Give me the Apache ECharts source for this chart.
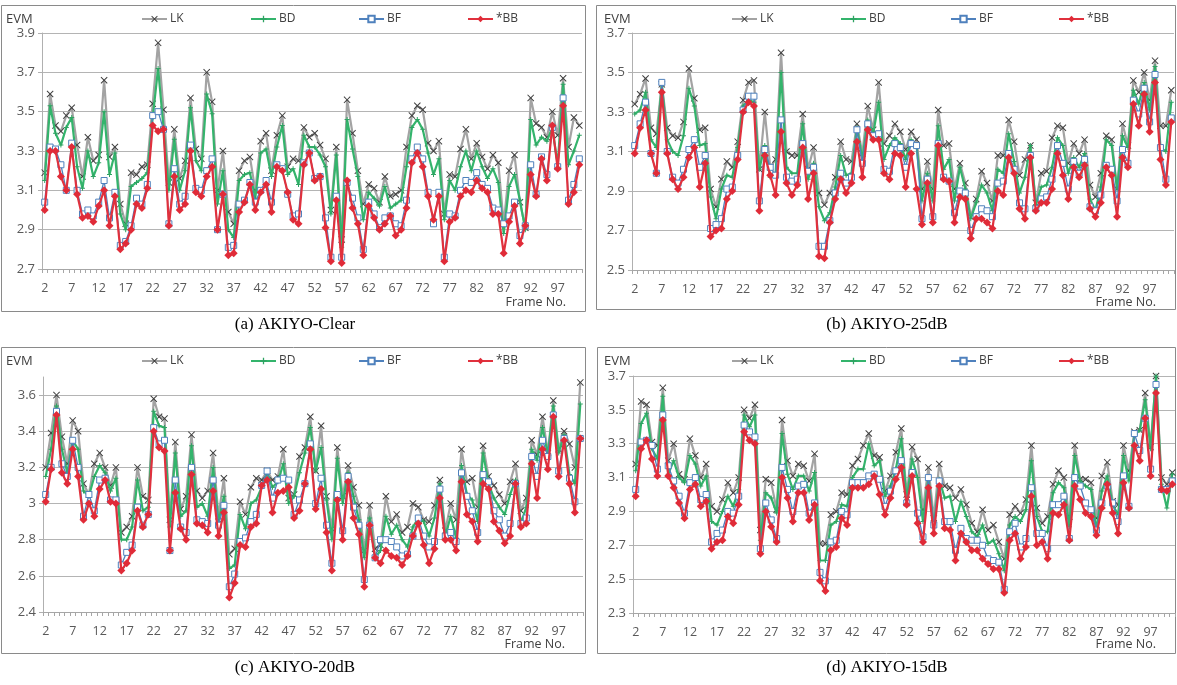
<!DOCTYPE html>
<html>
<head>
<meta charset="utf-8">
<script src="https://cdn.jsdelivr.net/npm/echarts@6/dist/echarts.min.js"></script>
<style>
  html, body { margin: 0; padding: 0; background: #fff; }
  #chart { width: 1177px; height: 685px; }
</style>
</head>
<body>
<div id="chart"></div>
<script>
// Frame numbers on the category axis
const frames = [2,3,4,5,6,7,8,9,10,11,12,13,14,15,16,17,18,19,20,21,22,23,24,25,26,27,28,29,30,31,
  32,33,34,35,36,37,38,39,40,41,42,43,44,45,46,47,48,49,50,51,52,53,54,55,56,57,58,59,60,61,
  62,63,64,65,66,67,68,69,70,71,72,73,74,75,76,77,78,79,80,81,82,83,84,85,86,87,88,89,90,91,
  92,93,94,95,96,97,98,99,100,101];

const seriesNames = ['LK', 'BD', 'BF', '*BB'];

// (a) AKIYO-Clear
const clearLK = [3.19,3.59,3.43,3.40,3.48,3.52,3.33,3.17,3.37,3.25, 3.28,3.66,3.27,3.32,3.03,2.93,3.19,3.18,3.22,3.23,
  3.54,3.85,3.51,3.14,3.41,3.16,3.25,3.57,3.31,3.26, 3.70,3.55,3.10,3.30,2.99,2.93,3.20,3.25,3.27,3.10,
  3.35,3.39,3.20,3.38,3.48,3.22,3.26,3.25,3.42,3.37, 3.39,3.33,3.26,3.00,3.32,2.85,3.56,3.39,3.20,3.03,
  3.13,3.11,3.04,3.17,3.07,3.08,3.10,3.32,3.48,3.53, 3.51,3.34,3.30,3.35,2.98,3.18,3.17,3.31,3.41,3.26,
  3.34,3.27,3.21,3.28,3.24,2.93,3.20,3.28,3.04,2.91, 3.57,3.44,3.42,3.37,3.50,3.38,3.67,3.32,3.47,3.43];
const clearBD = [3.15,3.53,3.39,3.33,3.42,3.47,3.22,3.11,3.30,3.17, 3.24,3.50,3.18,3.29,2.98,2.90,3.12,3.14,3.16,3.19,
  3.47,3.72,3.42,3.10,3.36,3.10,3.20,3.52,3.25,3.20, 3.59,3.49,3.03,3.20,2.90,2.86,3.15,3.18,3.19,3.06,
  3.29,3.31,3.17,3.32,3.43,3.18,3.21,3.13,3.38,3.32, 3.32,3.28,3.22,2.98,3.28,2.81,3.46,3.31,3.17,2.95,
  3.09,3.06,3.02,3.12,3.01,3.03,3.05,3.22,3.42,3.46, 3.41,3.29,3.18,3.26,2.95,3.15,3.10,3.22,3.30,3.20,
  3.30,3.22,3.16,3.21,3.14,2.88,3.12,3.18,3.05,2.90, 3.46,3.33,3.37,3.35,3.42,3.23,3.64,3.23,3.30,3.38];
const clearBF = [3.04,3.32,3.31,3.23,3.10,3.34,3.10,2.98,3.00,2.97, 3.04,3.15,2.96,3.09,2.82,2.84,2.92,3.06,3.03,3.13,
  3.48,3.50,3.41,2.93,3.21,3.03,3.07,3.33,3.11,3.10, 3.20,3.26,2.90,3.08,2.81,2.82,3.03,3.05,3.14,3.04,
  3.10,3.15,3.04,3.23,3.21,3.08,2.97,2.98,3.24,3.29, 3.16,3.17,2.96,2.76,3.07,2.76,3.14,3.06,2.96,2.80,
  3.04,2.98,2.91,2.96,2.97,2.93,2.92,3.05,3.26,3.32, 3.26,3.09,2.93,3.09,2.76,2.98,2.97,3.10,3.15,3.14,
  3.19,3.13,3.11,3.01,3.00,2.93,2.97,3.04,2.87,2.92, 3.23,3.08,3.27,3.18,3.42,3.22,3.57,3.05,3.13,3.26];
const clearBB = [3.00,3.30,3.30,3.17,3.10,3.32,3.08,2.96,2.97,2.94, 3.02,3.10,2.92,3.07,2.80,2.83,2.90,3.03,3.01,3.11,
  3.43,3.40,3.41,2.92,3.17,3.00,3.03,3.30,3.09,3.07, 3.17,3.22,2.90,3.08,2.77,2.78,2.99,3.04,3.13,3.00,
  3.09,3.13,2.99,3.22,3.20,3.09,2.95,2.93,3.23,3.29, 3.15,3.17,2.91,2.74,3.05,2.73,3.15,3.01,2.93,2.77,
  3.02,2.96,2.90,2.93,2.97,2.87,2.90,3.01,3.24,3.29, 3.22,3.07,2.95,3.07,2.74,2.94,2.96,3.07,3.10,3.09,
  3.15,3.11,3.09,2.98,2.98,2.78,2.94,3.02,2.83,2.92, 3.18,3.07,3.26,3.15,3.43,3.21,3.53,3.03,3.09,3.23];

// (b) AKIYO-25dB
const db25LK = [3.34,3.39,3.47,3.22,3.19,3.44,3.22,3.18,3.17,3.25, 3.52,3.37,3.21,3.22,2.91,2.82,2.96,3.05,3.02,3.15,
  3.36,3.45,3.46,3.01,3.30,3.02,3.06,3.60,3.10,3.08, 3.08,3.29,3.01,3.12,2.89,2.83,2.89,2.97,3.15,3.06,
  3.05,3.24,3.09,3.33,3.21,3.45,3.14,3.18,3.24,3.20, 3.11,3.20,3.16,2.91,3.05,2.91,3.31,3.13,3.14,2.91,
  3.04,2.94,2.77,2.86,3.00,2.94,2.85,3.08,3.08,3.26, 3.15,2.98,3.06,3.13,2.84,2.99,3.00,3.17,3.23,3.22,
  3.04,3.14,3.09,3.16,2.93,2.87,2.99,3.18,3.16,2.91, 3.24,3.13,3.46,3.40,3.50,3.36,3.56,3.23,3.23,3.41];
const db25BD = [3.29,3.31,3.40,3.16,3.12,3.44,3.16,3.10,3.08,3.18, 3.42,3.33,3.13,3.14,2.87,2.76,2.91,2.98,2.97,3.12,
  3.33,3.36,3.35,3.01,3.13,2.97,2.99,3.50,3.02,2.99, 2.99,3.24,2.96,3.04,2.82,2.75,2.79,2.92,3.08,2.98,
  2.99,3.22,3.06,3.26,3.19,3.35,3.06,3.13,3.17,3.14, 3.06,3.16,3.13,2.85,2.99,2.85,3.23,3.01,3.06,2.85,
  3.02,2.91,2.76,2.84,2.93,2.89,2.80,3.01,2.99,3.19, 3.05,2.89,2.97,3.13,2.83,2.92,2.93,3.02,3.17,3.13,
  2.99,3.07,3.02,3.09,2.86,2.80,2.92,3.16,3.13,2.91, 3.18,3.12,3.41,3.34,3.45,3.31,3.53,3.12,3.10,3.35];
const db25BF = [3.13,3.24,3.35,3.09,2.99,3.45,3.10,2.97,2.94,3.01, 3.11,3.16,3.02,3.08,2.71,2.73,2.76,2.91,2.92,3.08,
  3.31,3.38,3.38,2.85,3.11,3.02,2.98,3.26,2.97,2.95, 2.96,3.14,3.00,3.02,2.62,2.62,2.75,2.89,2.99,2.94,
  2.97,3.21,3.04,3.24,3.18,3.19,3.01,3.00,3.14,3.12, 3.02,3.14,3.13,2.76,2.96,2.77,3.14,2.97,2.95,2.79,
  2.90,2.89,2.70,2.77,2.81,2.80,2.77,2.94,2.95,3.09, 3.01,2.84,2.81,3.08,2.81,2.86,2.87,2.96,3.13,3.04,
  2.91,3.05,2.99,3.06,2.82,2.80,2.88,3.03,3.01,2.85, 3.11,3.04,3.36,3.29,3.42,3.25,3.49,3.12,2.96,3.27];
const db25BB = [3.09,3.22,3.31,3.09,2.99,3.40,3.09,2.96,2.91,2.97, 3.07,3.12,2.92,3.04,2.67,2.70,2.71,2.86,2.90,3.06,
  3.30,3.35,3.33,2.80,3.08,2.98,2.88,3.20,2.94,2.88, 2.93,3.12,2.86,2.99,2.57,2.56,2.74,2.86,2.96,2.89,
  2.94,3.15,2.97,3.21,3.16,3.16,2.99,2.96,3.09,3.08, 2.92,3.09,2.91,2.73,2.94,2.74,3.13,2.96,2.95,2.74,
  2.87,2.86,2.66,2.76,2.76,2.74,2.71,2.90,2.88,3.07, 2.99,2.81,2.76,3.07,2.80,2.84,2.84,2.91,3.09,2.98,
  2.86,3.02,2.97,3.03,2.81,2.77,2.84,3.02,2.98,2.77, 3.07,3.02,3.34,3.23,3.39,3.20,3.45,3.06,2.93,3.25];

// (c) AKIYO-20dB
const db20LK = [3.20,3.39,3.60,3.37,3.22,3.46,3.40,3.11,3.05,3.22, 3.28,3.20,3.10,3.20,2.84,2.87,2.93,3.20,3.04,3.02,
  3.58,3.48,3.47,2.91,3.34,2.97,3.04,3.38,3.07,3.03, 3.07,3.28,2.93,3.14,2.72,2.75,3.01,2.94,3.09,3.14,
  3.13,3.18,3.13,3.15,3.30,3.03,3.05,3.26,3.31,3.48, 3.18,3.43,3.04,2.86,3.31,3.04,3.21,3.09,2.99,2.74,
  2.99,2.75,2.77,3.04,2.90,2.94,2.84,2.87,3.00,2.98, 2.91,2.90,2.99,3.13,2.85,3.00,2.91,3.30,3.12,3.14,
  2.98,3.32,3.15,3.10,3.05,3.00,3.12,3.22,2.96,3.03, 3.35,3.27,3.48,3.28,3.57,3.30,3.40,3.33,3.20,3.67];
const db20BD = [3.15,3.30,3.54,3.30,3.17,3.35,3.30,3.07,3.04,3.15, 3.21,3.17,3.07,3.14,2.80,2.80,2.87,3.13,2.96,2.98,
  3.51,3.43,3.42,2.87,3.28,2.93,2.96,3.32,2.98,3.00, 2.93,3.20,2.90,3.04,2.64,2.66,2.94,2.86,3.00,3.02,
  3.09,3.17,3.09,3.12,3.22,3.00,3.04,3.17,3.28,3.42, 3.18,3.31,3.02,2.80,3.25,3.00,3.17,3.04,2.91,2.70,
  2.92,2.70,2.74,2.93,2.83,2.88,2.80,2.76,2.87,2.92, 2.90,2.82,2.92,3.11,2.82,2.93,2.81,3.21,3.05,3.02,
  2.90,3.28,3.11,3.03,2.98,2.94,3.05,3.13,2.89,2.98, 3.30,3.24,3.42,3.27,3.54,3.28,3.38,3.16,3.11,3.55];
const db20BF = [3.05,3.20,3.51,3.22,3.15,3.35,3.20,2.93,3.05,2.96, 3.13,3.14,3.02,3.02,2.66,2.73,2.77,2.98,2.88,2.94,
  3.42,3.33,3.35,2.74,3.13,2.87,2.84,3.20,2.91,2.90, 2.89,3.13,2.88,2.99,2.54,2.61,2.79,2.81,2.90,2.94,
  3.10,3.18,3.03,3.13,3.14,3.13,2.94,3.02,3.11,3.33, 3.00,3.14,2.88,2.67,3.05,2.85,3.15,2.98,2.88,2.58,
  2.88,2.70,2.80,2.80,2.79,2.76,2.71,2.72,2.82,2.92, 2.82,2.76,2.79,3.08,2.82,2.84,2.79,3.17,3.04,2.96,
  2.84,3.16,3.12,2.96,2.91,2.82,2.89,3.11,2.89,2.92, 3.26,3.15,3.35,3.26,3.49,3.18,3.36,3.14,3.01,3.36];
const db20BB = [3.01,3.19,3.49,3.17,3.11,3.30,3.15,2.91,3.00,2.93, 3.08,3.13,3.01,3.00,2.63,2.67,2.74,2.96,2.87,2.94,
  3.40,3.31,3.29,2.74,3.06,2.86,2.80,3.16,2.89,2.88, 2.84,3.07,2.82,2.95,2.48,2.56,2.77,2.76,2.87,2.89,
  3.10,3.13,2.95,3.06,3.07,3.09,2.92,2.96,3.11,3.30, 2.97,3.08,2.84,2.63,3.02,2.80,3.12,2.92,2.83,2.54,
  2.88,2.70,2.67,2.74,2.71,2.70,2.66,2.71,2.82,2.89, 2.77,2.67,2.75,3.03,2.80,2.80,2.74,3.12,2.94,2.90,
  2.79,3.11,3.08,2.90,2.85,2.78,2.82,3.11,2.87,2.89, 3.22,3.03,3.30,3.19,3.48,3.15,3.35,3.11,2.95,3.36];

// (d) AKIYO-15dB
const db15LK = [3.18,3.55,3.53,3.31,3.29,3.63,3.20,3.30,3.12,3.09, 3.33,3.23,3.10,3.18,2.93,2.90,2.97,3.07,3.01,3.10,
  3.50,3.45,3.53,2.79,3.09,3.07,2.91,3.44,3.20,3.11, 3.18,3.17,3.08,3.24,2.71,2.71,2.88,2.90,3.01,3.00,
  3.17,3.21,3.29,3.36,3.23,3.22,3.02,3.11,3.25,3.39, 3.00,3.28,3.21,2.91,3.16,2.86,3.18,3.05,3.04,2.98,
  3.03,2.94,2.83,2.78,2.91,2.79,2.82,2.72,2.62,2.88, 2.93,2.89,2.97,3.29,2.92,2.83,2.87,3.06,3.14,3.10,
  2.87,3.29,3.09,3.09,3.07,2.86,3.11,3.19,2.96,2.94, 3.29,3.14,3.37,3.38,3.60,3.28,3.70,3.10,3.06,3.13];
const db15BD = [3.14,3.42,3.48,3.27,3.21,3.58,3.12,3.20,3.10,3.07, 3.23,3.18,3.05,3.11,2.84,2.82,2.90,2.99,2.93,3.03,
  3.47,3.40,3.47,2.73,3.01,2.98,2.89,3.36,3.12,3.03, 3.11,3.11,3.02,3.13,2.61,2.61,2.82,2.84,2.94,2.93,
  3.10,3.15,3.15,3.30,3.17,3.20,2.99,3.05,3.15,3.33, 2.97,3.21,3.10,2.84,3.10,2.81,3.09,2.98,2.99,2.84,
  2.96,2.87,2.78,2.75,2.82,2.71,2.73,2.65,2.55,2.82, 2.87,2.84,2.91,3.20,2.87,2.78,2.78,3.01,3.07,3.04,
  2.81,3.23,3.08,3.05,3.03,2.79,3.02,3.11,2.94,2.88, 3.23,3.08,3.35,3.38,3.56,3.27,3.70,3.06,2.92,3.12];
const db15BF = [3.03,3.31,3.32,3.29,3.15,3.47,3.17,3.08,2.99,2.89, 3.07,3.10,2.97,3.00,2.72,2.77,2.79,2.90,2.89,2.99,
  3.41,3.37,3.34,2.68,2.95,2.85,2.74,3.16,3.03,2.90, 3.05,3.06,2.89,2.95,2.54,2.49,2.72,2.73,2.90,2.88,
  3.07,3.07,3.07,3.11,3.12,3.09,2.93,3.02,3.14,3.20, 2.95,3.13,2.89,2.75,3.10,2.82,3.08,2.84,2.84,2.67,
  2.80,2.74,2.73,2.73,2.70,2.62,2.61,2.60,2.44,2.78, 2.83,2.69,2.74,3.04,2.77,2.77,2.68,2.94,2.94,2.99,
  2.74,3.10,3.05,2.95,2.91,2.79,2.95,3.05,2.95,2.84, 3.11,2.93,3.36,3.26,3.45,3.15,3.65,3.03,3.03,3.08];
const db15BB = [2.99,3.27,3.32,3.21,3.11,3.44,3.11,3.04,2.95,2.86, 3.03,3.06,2.93,2.96,2.68,2.72,2.73,2.87,2.83,2.94,
  3.37,3.32,3.30,2.65,2.90,2.81,2.72,3.10,2.98,2.84, 3.01,3.01,2.85,2.94,2.49,2.43,2.67,2.69,2.86,2.82,
  3.04,3.04,3.04,3.06,3.11,3.00,2.88,2.98,3.09,3.16, 2.94,3.11,2.83,2.72,3.04,2.77,3.05,2.80,2.79,2.61,
  2.77,2.72,2.67,2.67,2.62,2.59,2.56,2.56,2.42,2.73, 2.77,2.62,2.69,2.99,2.70,2.72,2.62,2.89,2.88,2.94,
  2.73,3.05,2.97,2.89,2.87,2.76,2.92,3.06,2.89,2.77, 3.07,2.92,3.29,3.20,3.45,3.11,3.60,3.03,3.02,3.06];

// Panel layout: one grid per noise condition
const panels = [
  { caption: '(a) AKIYO-Clear', data: [clearLK, clearBD, clearBF, clearBB], min: 2.7, max: 3.9,
    box: [1.5, 5.5, 584, 306], grid: { left: 42, top: 33, width: 540, height: 236 },
    legendX: [141, 250, 358, 467], legendTop: 13, evm: [6, 19], frameNo: [566, 302], capX: 295, capY: 325 },
  { caption: '(b) AKIYO-25dB', data: [db25LK, db25BD, db25BF, db25BB], min: 2.5, max: 3.7,
    box: [596.5, 5.5, 579, 304], grid: { left: 632, top: 33, width: 542, height: 237 },
    legendX: [731, 840, 950, 1058], legendTop: 13, evm: [604, 19], frameNo: [1156, 302], capX: 887, capY: 325 },
  { caption: '(c) AKIYO-20dB', data: [db20LK, db20BD, db20BF, db20BB], min: 2.4, max: 3.7, hideMax: true,
    box: [1.5, 347.5, 584, 306], grid: { left: 43, top: 377, width: 540, height: 235 },
    legendX: [141, 250, 358, 467], legendTop: 355, evm: [6, 361], frameNo: [565, 644], capX: 295, capY: 668 },
  { caption: '(d) AKIYO-15dB', data: [db15LK, db15BD, db15BF, db15BB], min: 2.3, max: 3.7,
    box: [597.5, 347.5, 578, 306], grid: { left: 633, top: 376, width: 542, height: 237 },
    legendX: [731, 840, 950, 1058], legendTop: 355, evm: [604, 361], frameNo: [1156, 644], capX: 887, capY: 668 }
];

const FONT = 'Open Sans';
const AXIS_TEXT = '#595959';

// Marker shapes and line styles for the four methods
const crossPath = 'path://M1,0 L5,4 L9,0 L10,1 L6,5 L10,9 L9,10 L5,6 L1,10 L0,9 L4,5 L0,1 Z';
const plusPath = 'path://M4,0 L6,0 L6,4 L10,4 L10,6 L6,6 L6,10 L4,10 L4,6 L0,6 L0,4 L4,4 Z';
const styles = [
  { symbol: crossPath, symbolSize: 7, lineStyle: { color: '#a3a3a3', width: 2.2 }, itemStyle: { color: '#3f3f3f' } },
  { symbol: plusPath, symbolSize: 5, lineStyle: { color: '#34b46c', width: 2.2 }, itemStyle: { color: '#2ea362' } },
  { symbol: 'rect', symbolSize: 6, lineStyle: { color: '#4f81bd', width: 1.3 }, itemStyle: { color: '#ffffff', borderColor: '#4f81bd', borderWidth: 1 } },
  { symbol: 'diamond', symbolSize: 8, lineStyle: { color: '#e0313d', width: 2.2 }, itemStyle: { color: '#e02b38' } }
];

const option = {
  animation: false,
  backgroundColor: '#ffffff',
  textStyle: { fontFamily: FONT },
  grid: [], xAxis: [], yAxis: [], series: [], legend: [], graphic: []
};

panels.forEach((p, i) => {
  option.grid.push(Object.assign({ containLabel: false }, p.grid));
  option.xAxis.push({
    type: 'category', gridIndex: i, data: frames, boundaryGap: true,
    axisLine: { show: true, lineStyle: { color: '#a6a6a6', width: 1 } },
    axisTick: { show: true, interval: 0, length: 4, lineStyle: { color: '#a6a6a6' } },
    axisLabel: { interval: 4, margin: 13, fontSize: 12.5, color: AXIS_TEXT, fontFamily: FONT },
    splitLine: { show: false }
  });
  option.yAxis.push({
    type: 'value', gridIndex: i, min: p.min, max: p.max, interval: 0.2,
    axisLine: { show: true, lineStyle: { color: '#b0b0b0', width: 1 } },
    axisTick: { show: true, length: 4, lineStyle: { color: '#b0b0b0' } },
    axisLabel: { margin: 7, fontSize: 13, color: AXIS_TEXT, fontFamily: FONT,
      showMaxLabel: !p.hideMax, formatter: v => (Math.round(v * 10) / 10).toString() },
    splitLine: { show: true, showMaxLine: !p.hideMax, lineStyle: { color: '#b4b4b4', width: 1 } }
  });
  seriesNames.forEach((name, k) => {
    option.series.push(Object.assign({
      name: name, type: 'line', xAxisIndex: i, yAxisIndex: i,
      data: p.data[k], showSymbol: true, showAllSymbol: true, z: 2 + k
    }, styles[k]));
    option.legend.push({
      data: [name], left: p.legendX[k], top: p.legendTop, selectedMode: false,
      itemWidth: 25, itemHeight: 8, itemGap: 0, padding: 0,
      textStyle: { fontSize: 12, color: '#404040', fontFamily: FONT, padding: [0, 0, 0, -2] }
    });
  });
  option.graphic.push(
    { type: 'rect', shape: { x: p.box[0], y: p.box[1], width: p.box[2], height: p.box[3] },
      style: { fill: 'none', stroke: '#8a8a8a', lineWidth: 1 }, silent: true, z: 0 },
    { type: 'text', x: p.evm[0], y: p.evm[1],
      style: { text: 'EVM', fill: '#404040', font: '13px "' + FONT + '"', verticalAlign: 'middle' } },
    { type: 'text', x: p.frameNo[0], y: p.frameNo[1],
      style: { text: 'Frame No.', fill: '#404040', font: '12.5px "' + FONT + '"', align: 'right', verticalAlign: 'middle' } },
    { type: 'text', x: p.capX, y: p.capY,
      style: { text: p.caption, fill: '#000000', font: '17px "Liberation Serif"', align: 'center', verticalAlign: 'middle' } }
  );
});

const chart = echarts.init(document.getElementById('chart'), null, { renderer: 'canvas' });
chart.setOption(option);
</script>
</body>
</html>
